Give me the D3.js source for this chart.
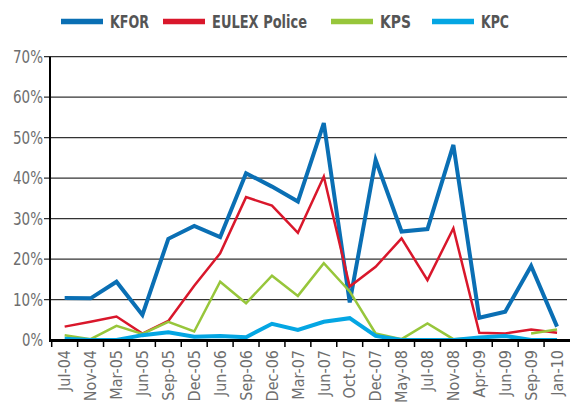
<!DOCTYPE html>
<html>
<head>
<meta charset="utf-8">
<script src="https://cdn.jsdelivr.net/npm/d3@7"></script>
<style>
  body { margin: 0; background: #fff; }
  svg text { font-family: "Liberation Sans Narrow", "DejaVu Sans Condensed", sans-serif; }
</style>
</head>
<body>
<svg id="chart" width="570" height="409"></svg>
<script>
var months = ["Jul-04","Nov-04","Mar-05","Jun-05","Sep-05","Dec-05","Jun-06","Sep-06","Dec-06","Mar-07",
              "Jun-07","Oct-07","Dec-07","May-08","Jul-08","Nov-08","Apr-09","Jun-09","Sep-09","Jan-10"];

var kfor  = [10.4, 10.3, 14.4, 6.2, 25.0, 28.2, 25.4, 41.2, 37.9, 34.2, 53.6, 9.3, 44.5, 26.8, 27.4, 48.2, 5.5, 7.0, 18.3, 3.3];
var eulex = [3.3, 4.5, 5.8, 1.6, 4.7, 13.4, 21.4, 35.3, 33.2, 26.5, 40.4, 13.2, 18.1, 25.1, 14.8, 27.6, 1.8, 1.6, 2.6, 1.8];
var kps   = [1.2, 0.2, 3.5, 1.5, 4.5, 2.1, 14.4, 9.1, 15.9, 10.9, 19.0, 12.0, 1.6, 0.2, 4.1, 0.2, 0.5, null, 1.6, 2.6];
var kpc   = [0.3, 0.0, 0.0, 1.2, 1.9, 0.8, 1.0, 0.7, 4.0, 2.5, 4.5, 5.4, 1.0, 0.0, 0.0, 0.0, 0.6, 1.0, 0.0, 0.0];

var yTicks = [0, 10, 20, 30, 40, 50, 60, 70];

var series = [
  {name: "KFOR", values: kfor, col: "#0a6fb4", w: 4, tl: 39},
  {name: "EULEX Police", values: eulex, col: "#d9172b", w: 2.5, tl: 95},
  {name: "KPS", values: kps, col: "#97c63b", w: 2.5, tl: 31},
  {name: "KPC", values: kpc, col: "#04a6e3", w: 4, tl: 28}
];

var svg = d3.select("#chart");

var x = d3.scaleBand().domain(months).range([51.7, 570]).padding(0);
var y = d3.scaleLinear().domain([0, 70]).range([340, 56.7]);

// grid
svg.append("g")
  .selectAll("line")
  .data(yTicks)
  .join("line")
    .attr("x1", 44).attr("x2", 567)
    .attr("y1", function(d) { return y(d); })
    .attr("y2", function(d) { return y(d); })
    .style("stroke", function(d) { return d == 0 ? "none" : "#333"; })
    .style("stroke-width", 1.2);

// y labels
svg.append("g")
  .selectAll("text")
  .data(yTicks)
  .join("text")
    .attr("x", 43)
    .attr("y", function(d) { return y(d); })
    .attr("dy", "0.36em")
    .attr("text-anchor", "end")
    .attr("textLength", function(d) { return d == 0 ? 21 : 30; })
    .attr("lengthAdjust", "spacingAndGlyphs")
    .style("font-size", "17px")
    .style("fill", "#6e6e6e")
    .text(function(d) { return d + "%"; });

// lines
var line = d3.line()
  .defined(function(d) { return d != null; })
  .x(function(d, i) { return x(months[i]) + x.bandwidth() / 2; })
  .y(function(d) { return y(d); });

svg.append("g")
  .selectAll("path")
  .data(series)
  .join("path")
    .attr("d", function(s) { return line(s.values); })
    .style("fill", "none")
    .style("stroke", function(s) { return s.col; })
    .style("stroke-width", function(s) { return s.w; });

// axes
svg.append("line")
  .attr("x1", 50).attr("x2", 50)
  .attr("y1", y(70)).attr("y2", 341)
  .style("stroke", "#000").style("stroke-width", 2);
svg.append("line")
  .attr("x1", 49).attr("x2", 570)
  .attr("y1", 340.5).attr("y2", 340.5)
  .style("stroke", "#000").style("stroke-width", 3);

svg.append("g")
  .selectAll("line")
  .data(months)
  .join("line")
    .attr("x1", function(d) { return x(d); })
    .attr("x2", function(d) { return x(d); })
    .attr("y1", 340).attr("y2", 347)
    .style("stroke", "#000").style("stroke-width", 1.5);

svg.append("g")
  .selectAll("text")
  .data(months)
  .join("text")
    .attr("transform", function(d) {
      return "translate(" + (x(d) + x.bandwidth() / 2) + ",350) rotate(-90)";
    })
    .attr("dy", "0.36em")
    .attr("text-anchor", "end")
    .style("font-size", "16px")
    .style("fill", "#6e6e6e")
    .text(function(d) { return d; });

// legend
var legX = [61, 163, 331, 432];
var leg = svg.append("g")
  .selectAll("g")
  .data(series)
  .join("g")
    .attr("transform", function(d, i) { return "translate(" + legX[i] + ",21.5)"; });
leg.append("line")
  .attr("x1", 0).attr("x2", 42)
  .style("stroke", function(d) { return d.col; })
  .style("stroke-width", 5.5);
leg.append("text")
  .attr("x", 49)
  .attr("dy", "0.36em")
  .attr("textLength", function(d) { return d.tl; })
  .attr("lengthAdjust", "spacingAndGlyphs")
  .style("font-size", "18px")
  .style("font-weight", "bold")
  .style("fill", "#555")
  .text(function(d) { return d.name; });
</script>
</body>
</html>
